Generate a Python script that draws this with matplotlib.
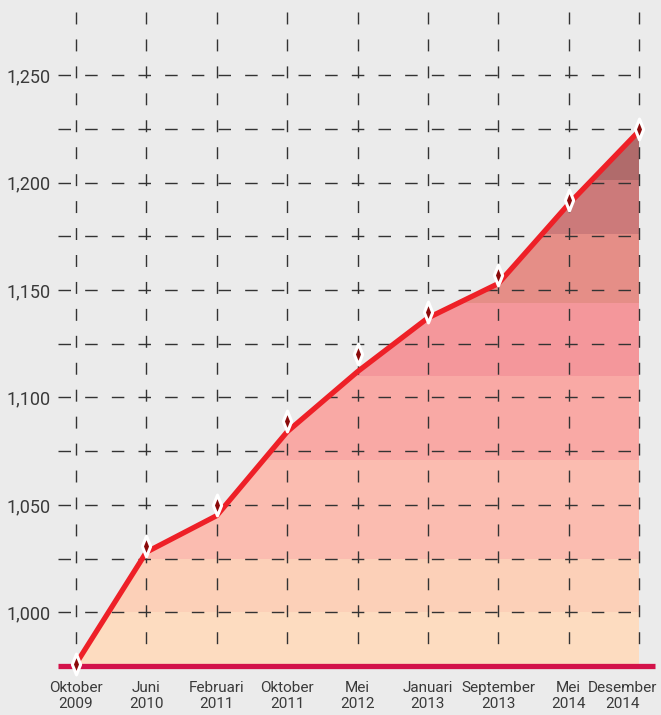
import numpy as np
import matplotlib.pyplot as plt
from matplotlib.patches import Polygon
from matplotlib.path import Path
import matplotlib.transforms as mtrans

plt.rcParams['font.family'] = ['Roboto', 'DejaVu Sans']
plt.rcParams['lines.scale_dashes'] = False

labels = ['Oktober\n2009', 'Juni\n2010', 'Februari\n2011', 'Oktober\n2011', 'Mei\n2012',
          'Januari\n2013', 'September\n2013', 'Mei\n2014', 'Desember\n2014']
# red line vertices and diamond markers (markers sit slightly above the line)
line_vals = [976, 1028, 1045, 1084, 1112, 1137, 1153, 1190, 1224]
marker_vals = [976, 1031, 1050, 1089, 1120, 1140, 1157, 1192, 1225]
# colour bands of the area fill
band_edges = [975, 1000, 1025, 1071, 1110, 1144, 1176, 1201, 1300]
band_colors = ['#fddcc0', '#fcd0b8', '#fbbcb0', '#f9a9a5', '#f4979b', '#e58e87', '#cc7a7a', '#b06b6b']
major_ticks = [1000, 1050, 1100, 1150, 1200, 1250]
minor_ticks = [1025, 1075, 1125, 1175, 1225]

x = np.arange(len(labels))

fig = plt.figure(figsize=(6.61, 7.15), dpi=100, facecolor='#ebebeb')
ax = fig.add_axes([58/661, 49/715, 603/661, 666/715])
ax.set_facecolor('#ebebeb')
ax.set_xlim(-0.2558, 8.3126)
ax.set_ylim(975, 1285)
for s in ax.spines.values():
    s.set_visible(False)

# area under the line, coloured by horizontal bands
verts = [(x[0], 975)] + list(zip(x, line_vals)) + [(x[-1], 975)]
area = Polygon(verts, closed=True, facecolor='none', edgecolor='none')
ax.add_patch(area)
for i in range(len(band_colors)):
    b = ax.axhspan(band_edges[i], band_edges[i+1], color=band_colors[i], lw=0, zorder=1)
    b.set_clip_path(area)

# dashed grid
for v in major_ticks + minor_ticks:
    ax.plot([-0.2558, x[-1]], [v, v], color='#333333', lw=1.0, dashes=(9.0, 10.2), zorder=2)
for xi in x:
    ax.plot([xi, xi], [1279.4, 979.2], color='#333333', lw=1.0, dashes=(8.6, 10.8), zorder=2)

# baseline
ax.plot([-0.2558, 8.227], [974.8, 974.8], color='#d3124a', lw=3.8, solid_capstyle='butt',
        clip_on=False, zorder=3)

ax.plot(x, line_vals, color='#ee2027', lw=3.8, solid_joinstyle='round', zorder=4)
diamond = Path([(0, 1), (0.4, 0), (0, -1), (-0.4, 0), (0, 1)],
               [Path.MOVETO, Path.LINETO, Path.LINETO, Path.LINETO, Path.CLOSEPOLY])
ax.plot(x, marker_vals, ls='none', marker=diamond, ms=15, mfc='#8b0a0a', mec='white', mew=2.2,
        zorder=5, clip_on=False)

ax.set_yticks(major_ticks)
ax.set_yticklabels(['{:,}'.format(v) for v in major_ticks])
ax.set_xticks(x)
ax.set_xticklabels(labels, linespacing=1.15)
ax.tick_params(axis='y', length=0, pad=5, labelsize=13, labelcolor='#3a3a3a')
ax.tick_params(axis='x', length=0, pad=11, labelsize=11, labelcolor='#3a3a3a')
# last label is pushed left so it fits inside the figure
last = ax.get_xticklabels()[-1]
last.set_transform(last.get_transform() + mtrans.ScaledTranslation(-0.17, 0, fig.dpi_scale_trans))

fig.savefig('out.png', dpi=100, facecolor='#ebebeb')
